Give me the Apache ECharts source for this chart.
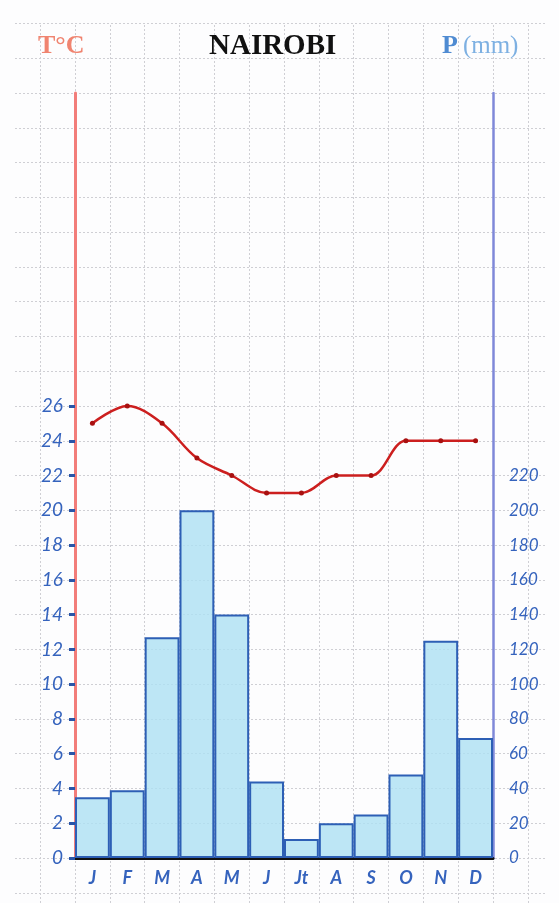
<!DOCTYPE html>
<html>
<head>
<meta charset="utf-8">
<script src="https://cdn.jsdelivr.net/npm/echarts@6/dist/echarts.min.js"></script>
<style>
  html, body { margin: 0; padding: 0; background: #fdfdfe; }
  #chartWrap { width: 559px; height: 903px; }
</style>
</head>
<body>
<div id="chartWrap"></div>
<script>
var months = ['J', 'F', 'M', 'A', 'M', 'J', 'Jt', 'A', 'S', 'O', 'N', 'D'];
var temperature = [25, 26, 25, 23, 22, 21, 21, 22, 22, 24, 24, 24]; // °C
var precipitation = [35, 39, 127, 200, 140, 44, 11, 20, 25, 48, 125, 69]; // mm
var tempTicks = [0, 26, 2];    // min, max, pas des graduations T
var rainTicks = [0, 220, 20];  // min, max, pas des graduations P

var blueInk = '#3563bd';
var handFont = 'Lato';
var paperLine = { show: true, lineStyle: { color: '#cfcfd4', type: [2, 2], width: 1 } };

var myChart = echarts.init(document.getElementById('chartWrap'));

var option = {
    backgroundColor: '#fdfdfe',
    animation: false,
    title: [
        { text: 'T°C', left: 33, top: 28, textStyle: { fontFamily: 'Liberation Serif', fontWeight: 'bold', fontSize: 26, color: '#f08470' } },
        { text: 'NAIROBI', left: 204, top: 27, textStyle: { fontFamily: 'Liberation Serif', fontWeight: 'bold', fontSize: 29, color: '#111' } },
        {
            text: '{p|P} {mm|(mm)}', left: 437, top: 28,
            textStyle: {
                rich: {
                    p: { fontFamily: 'Liberation Serif', fontWeight: 'bold', fontSize: 26, color: '#4f8bd2' },
                    mm: { fontFamily: 'Liberation Serif', fontWeight: 'normal', fontSize: 25, color: '#7db0e2' }
                }
            }
        }
    ],
    grid: [
        { left: 40.17, right: 31.17, top: 25, bottom: 0 },       // papier : traits verticaux
        { left: 15, right: 14, top: 23.5, bottom: 10.2 },        // papier : traits horizontaux
        { left: 75, right: 66, top: 93, bottom: 45 },            // diagramme
        { left: 75, right: 66, top: 406, bottom: 45 },           // graduations T
        { left: 75, right: 66, top: 475.5, bottom: 45 }          // graduations P
    ],
    xAxis: [
        { gridIndex: 0, type: 'value', min: 0, max: 14, interval: 1, axisLine: { show: false }, axisTick: { show: false }, axisLabel: { show: false }, splitLine: paperLine },
        { gridIndex: 1, type: 'value', show: false, min: 0, max: 1 },
        {
            gridIndex: 2, type: 'category', data: months,
            axisLine: { lineStyle: { color: '#111', width: 3 } },
            axisTick: { show: false },
            axisLabel: { margin: 11, fontSize: 18, fontStyle: 'italic', fontWeight: 'bold', fontFamily: handFont, color: blueInk }
        },
        { gridIndex: 3, type: 'value', show: false, min: 0, max: 1 },
        { gridIndex: 4, type: 'value', show: false, min: 0, max: 1 }
    ],
    yAxis: [
        { gridIndex: 0, type: 'value', show: false, min: 0, max: 1 },
        { gridIndex: 1, type: 'value', min: -1, max: 24, interval: 1, axisLine: { show: false }, axisTick: { show: false }, axisLabel: { show: false }, splitLine: paperLine },
        {
            gridIndex: 2, type: 'value', position: 'left', min: 0, max: 44,
            axisLine: { show: true, lineStyle: { color: '#f27d7a', width: 3 } },
            axisTick: { show: false }, axisLabel: { show: false }, splitLine: { show: false }
        },
        {
            gridIndex: 2, type: 'value', position: 'right', min: 0, max: 440,
            axisLine: { show: true, lineStyle: { color: '#7f88d8', width: 2.5 } },
            axisTick: { show: false }, axisLabel: { show: false }, splitLine: { show: false }
        },
        {
            gridIndex: 3, type: 'value', position: 'left', min: tempTicks[0], max: tempTicks[1], interval: tempTicks[2],
            axisLine: { show: false },
            axisTick: { show: true, length: 6, lineStyle: { color: '#2a55a8', width: 3 } },
            axisLabel: { margin: 12, fontSize: 19, fontStyle: 'italic', fontFamily: handFont, color: blueInk },
            splitLine: { show: false }
        },
        {
            gridIndex: 4, type: 'value', position: 'right', min: rainTicks[0], max: rainTicks[1], interval: rainTicks[2],
            axisLine: { show: false },
            axisTick: { show: true, length: 5, inside: true, lineStyle: { color: '#2a55a8', width: 3 } },
            axisLabel: { margin: 16, fontSize: 17, fontStyle: 'italic', fontFamily: handFont, color: blueInk },
            splitLine: { show: false }
        }
    ],
    series: [
        {
            name: 'P', type: 'bar', xAxisIndex: 2, yAxisIndex: 3,
            data: precipitation,
            barCategoryGap: '0%',
            itemStyle: { color: 'rgba(172,224,243,0.8)', borderColor: '#2d5fb5', borderWidth: 2 }
        },
        {
            name: 'T', type: 'line', xAxisIndex: 2, yAxisIndex: 2,
            data: temperature,
            smooth: 0.35,
            symbol: 'circle', symbolSize: 5,
            lineStyle: { color: '#cc1f1f', width: 2.5 },
            itemStyle: { color: '#a81010' }
        }
    ]
};

myChart.setOption(option);
</script>
</body>
</html>
